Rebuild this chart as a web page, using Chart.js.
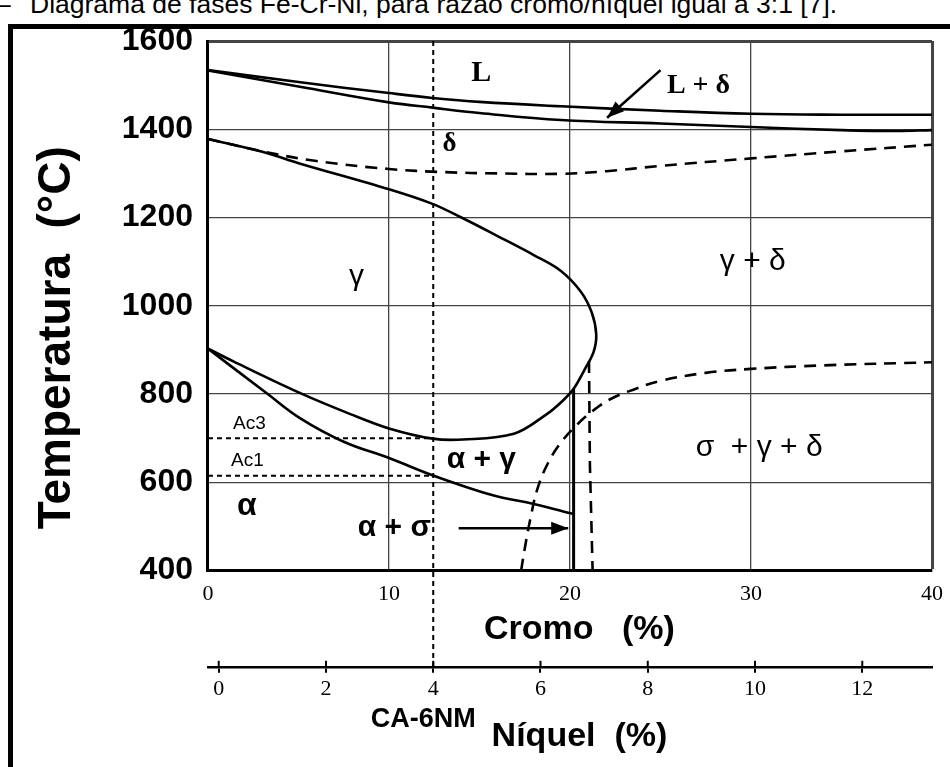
<!DOCTYPE html>
<html>
<head>
<meta charset="utf-8">
<style>
  html, body { margin: 0; padding: 0; background: #fff; width: 950px; height: 767px; overflow: hidden; }
  #cap { position: absolute; left: 30px; top: -11px; font: 26.5px "Liberation Sans", Arial, sans-serif; line-height: 30px; color: #000; white-space: nowrap; }
  #capDash { position: absolute; left: -4px; top: -11px; font: 26.5px "Liberation Sans", Arial, sans-serif; line-height: 30px; color: #000; }
  #frameL { position: absolute; left: 8px; top: 24px; width: 5px; height: 743px; background: #000; }
  #frameT { position: absolute; left: 8px; top: 24px; width: 942px; height: 5px; background: #000; }
  #c { position: absolute; left: 0; top: 0; }
</style>
<script src="https://cdn.jsdelivr.net/npm/chart.js@4.4.1/dist/chart.umd.min.js"></script>
</head>
<body>
<div id="capDash">–</div>
<div id="cap">Diagrama de fases Fe-Cr-Ni, para razão cromo/níquel igual a 3:1 [7].</div>
<div id="frameL"></div>
<div id="frameT"></div>
<canvas id="c" width="950" height="767"></canvas>
<script>
// ---------------- data ----------------
const crTicks   = [0, 10, 20, 30, 40];
const tempTicks = [400, 600, 800, 1000, 1200, 1400, 1600];
const niTicks   = [0, 2, 4, 6, 8, 10, 12];
const ca6nmNi   = [4];

const liquidusCr = [0, 5, 10, 12.4, 15, 19.5, 25, 30, 35, 40];
const liquidusT  = [1534, 1507, 1482, 1471, 1462, 1452, 1442, 1435, 1433, 1433];

const solidusCr = [0, 5, 10, 12.4, 15, 19.5, 25, 30, 35, 38, 40];
const solidusT  = [1533, 1497, 1461, 1449, 1437, 1421, 1413, 1405, 1398, 1396, 1398];

const deltaCr = [0, 3, 6, 10, 13, 16, 19.5, 22, 25, 30, 35, 40];
const deltaT  = [1378, 1350, 1328, 1310, 1303, 1300, 1299, 1305, 1317, 1334, 1350, 1365];

const gammaLoopCr = [0, 3, 5.1, 10, 12.4, 14, 16, 18, 19.5, 20.6, 21.2, 21.45, 21.3, 20.8, 20.2, 19.6, 18.7, 16.9, 14.1, 12.4, 10, 7.9, 5.1, 1.4, 0];
const gammaLoopT  = [1378, 1349, 1322, 1264, 1231, 1200, 1158, 1115, 1079, 1032, 985, 935, 895, 855, 812, 785, 754, 710, 697, 699, 722, 754, 802, 874, 903];

const alphaCr = [0, 3.3, 5.1, 7.5, 10, 12.4, 14.3, 16, 18, 20.2];
const alphaT  = [903, 800, 745, 692, 655, 616, 589, 568, 551, 528];

const sigmaCr = [17.3, 17.5, 17.8, 18.2, 18.8, 19.5, 20.3, 21.2, 22.3, 23.5, 25, 27.5, 30, 34, 40];
const sigmaT  = [400, 450, 515, 585, 645, 690, 727, 760, 790, 810, 830, 848, 857, 865, 872];

const limitSolidCr = [20.2, 20.2];
const limitSolidT  = [812, 400];
const limitDashCr  = [21.05, 21.1, 21.25];
const limitDashT   = [875, 640, 400];

const acCr = [0, 12.4];
const ac3T = [700, 700];
const ac1T = [615, 615];

const arrowLdCr = [25, 22.05];
const arrowLdT  = [1534, 1426];
const arrowAsCr = [13.85, 19.9];
const arrowAsT  = [496, 496];

const labelText = ['L', 'L + δ', 'δ', 'γ', 'γ + δ', 'α + γ', 'α', 'α + σ', 'σ  + γ + δ', 'Ac3', 'Ac1'];
const labelCr   = [15.1, 27.1, 13.35, 8.2, 30.1, 15.1, 2.15, 10.3, 30.45, 1.38, 1.27];
const labelT    = [1527, 1499, 1367, 1066, 1100, 651, 547, 496, 678, 733, 648];

// ---------------- styles ----------------
const SANS  = '"Liberation Sans", Arial, Helvetica, sans-serif';
const SERIF = '"Liberation Serif", "Times New Roman", Times, serif';
const labelStyle = [
  {font: 'bold 30px ' + SERIF, align: 'center'},
  {font: 'bold 28px ' + SERIF, align: 'center'},
  {font: 'bold 27px ' + SERIF, align: 'center'},
  {font: '30px ' + SANS, align: 'center'},
  {font: '30px ' + SANS, align: 'center'},
  {font: 'bold 30px ' + SANS, align: 'center'},
  {font: 'bold 32px ' + SANS, align: 'center'},
  {font: 'bold 30px ' + SANS, align: 'center'},
  {font: '30px ' + SANS, align: 'center'},
  {font: '19px ' + SANS, align: 'left'},
  {font: '19px ' + SANS, align: 'left'}
];

const pts = (xs, ys) => xs.map((x, i) => ({x: x, y: ys[i]}));
const solid = (xs, ys, extra) => Object.assign({data: pts(xs, ys), borderColor: '#000', borderWidth: 2.6, tension: 0.4, pointRadius: 0, fill: false}, extra || {});
const dashed = (xs, ys, extra) => solid(xs, ys, Object.assign({borderDash: [12, 8]}, extra || {}));

const datasets = [
  solid(liquidusCr, liquidusT),
  solid(solidusCr, solidusT),
  dashed(deltaCr, deltaT),
  solid(gammaLoopCr, gammaLoopT, {tension: 0.35}),
  solid(alphaCr, alphaT),
  dashed(sigmaCr, sigmaT),
  solid(limitSolidCr, limitSolidT, {tension: 0, borderWidth: 3}),
  dashed(limitDashCr, limitDashT, {tension: 0}),
  solid(acCr, ac3T, {tension: 0, borderDash: [5, 4], borderWidth: 2}),
  solid(acCr, ac1T, {tension: 0, borderDash: [5, 4], borderWidth: 2}),
  solid(arrowLdCr, arrowLdT, {tension: 0, borderWidth: 2.6, arrow: true}),
  solid(arrowAsCr, arrowAsT, {tension: 0, borderWidth: 2.6, arrow: true})
];

// ---------------- plugins ----------------
const arrowHeads = {
  id: 'arrowHeads',
  afterDatasetsDraw(chart) {
    const ctx = chart.ctx;
    chart.data.datasets.forEach((ds, i) => {
      if (!ds.arrow) return;
      const pts = chart.getDatasetMeta(i).data;
      const a = pts[pts.length - 2], b = pts[pts.length - 1];
      const ang = Math.atan2(b.y - a.y, b.x - a.x);
      const L = 17, W = 6.5;
      ctx.save();
      ctx.fillStyle = '#000';
      ctx.beginPath();
      ctx.moveTo(b.x, b.y);
      ctx.lineTo(b.x - L * Math.cos(ang) + W * Math.sin(ang), b.y - L * Math.sin(ang) - W * Math.cos(ang));
      ctx.lineTo(b.x - L * Math.cos(ang) - W * Math.sin(ang), b.y - L * Math.sin(ang) + W * Math.cos(ang));
      ctx.closePath();
      ctx.fill();
      ctx.restore();
    });
  }
};

const regionLabels = {
  id: 'regionLabels',
  afterDatasetsDraw(chart) {
    const ctx = chart.ctx, xs = chart.scales.x, ys = chart.scales.y;
    ctx.save();
    ctx.fillStyle = '#000';
    ctx.textBaseline = 'middle';
    labelText.forEach((t, i) => {
      ctx.font = labelStyle[i].font;
      ctx.textAlign = labelStyle[i].align;
      ctx.fillText(t, xs.getPixelForValue(labelCr[i]), ys.getPixelForValue(labelT[i]));
    });
    ctx.restore();
  }
};

const nickelExtras = {
  id: 'nickelExtras',
  afterDraw(chart) {
    const ctx = chart.ctx, ni = chart.scales.xNi, area = chart.chartArea;
    ctx.save();
    ctx.strokeStyle = '#000';
    ctx.lineWidth = 2;
    ni.ticks.forEach(t => {
      const px = ni.getPixelForValue(t.value);
      ctx.beginPath(); ctx.moveTo(px, ni.top - 6); ctx.lineTo(px, ni.top); ctx.stroke();
    });
    const xv = ni.getPixelForValue(ca6nmNi[0]);
    ctx.setLineDash([5, 4]);
    ctx.lineWidth = 2;
    ctx.beginPath(); ctx.moveTo(xv, area.top); ctx.lineTo(xv, ni.top); ctx.stroke();
    ctx.setLineDash([]);
    ctx.fillStyle = '#000';
    ctx.font = 'bold 27px ' + SANS;
    ctx.textAlign = 'center';
    ctx.textBaseline = 'middle';
    ctx.fillText('CA-6NM', xv - 10, ni.top + 53);
    ctx.restore();
  }
};

const plain = v => String(v);

new Chart(document.getElementById('c'), {
  type: 'line',
  data: {datasets: datasets},
  plugins: [arrowHeads, regionLabels, nickelExtras],
  options: {
    responsive: false,
    animation: false,
    devicePixelRatio: 1,
    layout: {padding: {left: 30, top: 41, right: 14, bottom: 10}},
    plugins: {legend: {display: false}, tooltip: {enabled: false}},
    scales: {
      x: {
        type: 'linear', position: 'bottom', weight: 0, min: 0, max: 40,
        afterBuildTicks: s => { s.ticks = crTicks.map(v => ({value: v})); },
        ticks: {color: '#000', padding: 7, font: {family: SERIF, size: 22}, callback: plain},
        grid: {color: '#444', drawTicks: true, tickLength: 3, tickColor: 'rgba(0,0,0,0)', lineWidth: c => (c.tick && c.tick.value === 40) ? 3 : 1.3},
        border: {color: '#000', width: 3},
        title: {display: true, text: '  Cromo   (%)', color: '#000', font: {family: SANS, size: 34, weight: 'bold'}, padding: {top: -5, bottom: 17}}
      },
      xNi: {
        type: 'linear', position: 'bottom', weight: 1, min: -0.2, max: 13.3,
        afterBuildTicks: s => { s.ticks = niTicks.map(v => ({value: v})); },
        ticks: {color: '#000', padding: 3, font: {family: SERIF, size: 22}, callback: plain},
        grid: {drawOnChartArea: false, drawTicks: true, tickLength: 6, color: '#000', lineWidth: 2},
        border: {display: true, color: '#000', width: 2.5},
        title: {display: true, text: '  Níquel  (%)', color: '#000', font: {family: SANS, size: 34, weight: 'bold'}, padding: {top: 11, bottom: 0}}
      },
      y: {
        type: 'linear', position: 'left', min: 400, max: 1600,
        afterBuildTicks: s => { s.ticks = tempTicks.map(v => ({value: v})); },
        ticks: {color: '#000', padding: 15, font: {family: SANS, size: 32, weight: 'bold'}, callback: plain},
        grid: {color: '#444', drawTicks: false, lineWidth: c => (c.tick && c.tick.value === 1600) ? 3 : 1.3},
        border: {color: '#000', width: 3},
        title: {display: true, text: 'Temperatura  (°C)     ', color: '#000', font: {family: SANS, size: 46, weight: 'bold'}, padding: {top: 0, bottom: 21.6}}
      }
    }
  }
});
</script>
</body>
</html>
